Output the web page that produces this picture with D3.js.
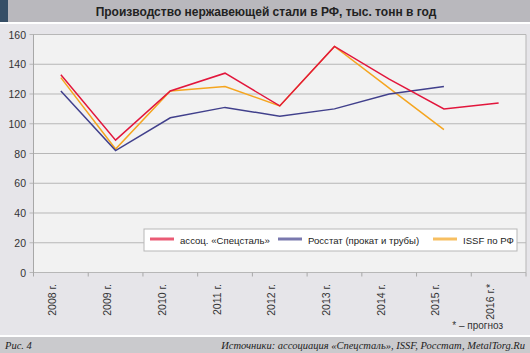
<!DOCTYPE html>
<meta charset="utf-8">
<head>
  <script src="https://d3js.org/d3.v7.min.js"></script>
  <style>
    body { margin: 0; background: #e6e5e9; }
    text { font-family: "Liberation Sans", Arial, sans-serif; }
  </style>
</head>
<body>
<div id="chart"></div>
<script>
  var years = ["2008 г.", "2009 г.", "2010 г.", "2011 г.", "2012 г.", "2013 г.", "2014 г.", "2015 г.", "2016 г.*"];
  var spetsstal = [133, 89, 122, 134, 112, 152, 130, 110, 114];
  var rosstat = [122, 82, 104, 111, 105, 110, 120, 125];
  var issf = [131, 83, 122, 125, 112, 152, 124, 96];
  var yTicks = [0, 20, 40, 60, 80, 100, 120, 140, 160];
  var seriesNames = ["ассоц. «Спецсталь»", "Росстат (прокат и трубы)", "ISSF по РФ"];
  var colors = ["#e2163c", "#41408c", "#f5a51f"];

  var W = 530, H = 353;
  var plot = {left: 33.5, right: 526, top: 34.5, bottom: 272.5};

  var svg = d3.select("#chart").append("svg")
      .attr("width", W).attr("height", H);

  svg.append("rect").attr("width", W).attr("height", H).attr("fill", "#e6e5e9");

  // title bar
  svg.append("rect").attr("x", 0).attr("y", 0).attr("width", W).attr("height", 22).attr("fill", "#b9b8bd");
  svg.append("rect").attr("x", 0).attr("y", 0).attr("width", 8).attr("height", 22).attr("fill", "#364e66");
  svg.append("rect").attr("x", 0).attr("y", 22).attr("width", W).attr("height", 2).attr("fill", "#ffffff");
  svg.append("text").attr("x", 266).attr("y", 16).attr("text-anchor", "middle")
      .style("font-size", "12px").style("font-weight", "bold").attr("fill", "#222")
      .text("Производство нержавеющей стали в РФ, тыс. тонн в год");

  var x = d3.scaleBand().domain(years).range([plot.left, plot.right]);
  var y = d3.scaleLinear().domain([0, 160]).range([plot.bottom, plot.top]);

  svg.append("rect").attr("x", plot.left).attr("y", plot.top)
      .attr("width", plot.right - plot.left).attr("height", plot.bottom - plot.top)
      .attr("fill", "#f2f2f2");

  // grid
  svg.append("g").selectAll("line").data(yTicks).enter().append("line")
      .attr("x1", plot.left - 4).attr("x2", plot.right)
      .attr("y1", function(d) { return y(d); }).attr("y2", function(d) { return y(d); })
      .attr("stroke", "#b7b7b7").attr("stroke-width", 1);

  svg.append("line").attr("x1", plot.right).attr("x2", plot.right)
      .attr("y1", plot.top).attr("y2", plot.bottom).attr("stroke", "#b7b7b7");
  svg.append("line").attr("x1", plot.left).attr("x2", plot.left)
      .attr("y1", plot.top).attr("y2", plot.bottom + 4).attr("stroke", "#a8a8a8");

  svg.append("g").selectAll("text").data(yTicks).enter().append("text")
      .attr("x", 26).attr("y", function(d) { return y(d) + 4; })
      .attr("text-anchor", "end").style("font-size", "10.5px").attr("fill", "#333")
      .text(function(d) { return d; });

  // x ticks
  svg.append("g").selectAll("line").data(years).enter().append("line")
      .attr("x1", function(d) { return x(d) + x.bandwidth(); })
      .attr("x2", function(d) { return x(d) + x.bandwidth(); })
      .attr("y1", plot.bottom).attr("y2", plot.bottom + 4)
      .attr("stroke", "#a8a8a8");

  svg.append("g").selectAll("text").data(years).enter().append("text")
      .attr("transform", function(d) {
        return "translate(" + (x(d) + x.bandwidth() / 2 - 4.5) + ",284) rotate(-90)";
      })
      .attr("text-anchor", "end").style("font-size", "10.5px").attr("fill", "#333")
      .text(function(d) { return d; });

  // lines
  var line = d3.line()
      .x(function(d, i) { return x(years[i]) + x.bandwidth() / 2; })
      .y(function(d) { return y(d); });

  [issf, rosstat, spetsstal].forEach(function(s, k) {
    var idx = [2, 1, 0][k];
    svg.append("path").datum(s).attr("d", line)
        .attr("fill", "none").attr("stroke", colors[idx]).attr("stroke-width", 1.5);
  });

  // legend
  var lg = svg.append("g");
  lg.append("rect").attr("x", 144).attr("y", 229).attr("width", 373).attr("height", 22)
      .attr("fill", "#ffffff").attr("stroke", "#b7b7b7");
  var legendX = [150, 278, 433];
  seriesNames.forEach(function(n, i) {
    lg.append("line").attr("x1", legendX[i]).attr("x2", legendX[i] + 24)
        .attr("y1", 239).attr("y2", 239)
        .attr("stroke", colors[i]).attr("stroke-width", 3).attr("opacity", 0.7);
    lg.append("text").attr("x", legendX[i] + 30).attr("y", 243.5)
        .style("font-size", "9.6px").attr("fill", "#222").text(n);
  });

  svg.append("text").attr("x", 503).attr("y", 329).attr("text-anchor", "end")
      .style("font-size", "10px").attr("fill", "#333").text("* – прогноз");

  // footer
  svg.append("rect").attr("x", 0).attr("y", 335).attr("width", W).attr("height", 2).attr("fill", "#ffffff");
  svg.append("rect").attr("x", 0).attr("y", 337).attr("width", W).attr("height", 16).attr("fill", "#cacacd");
  svg.append("text").attr("x", 5).attr("y", 349)
      .style("font-family", "'Liberation Serif', serif").style("font-style", "italic")
      .style("font-size", "10.5px").attr("fill", "#222").text("Рис. 4");
  svg.append("text").attr("x", 525).attr("y", 349).attr("text-anchor", "end")
      .style("font-family", "'Liberation Serif', serif").style("font-style", "italic")
      .style("font-size", "10.5px").attr("fill", "#222")
      .text("Источники: ассоциация «Спецсталь», ISSF, Росстат, MetalTorg.Ru");
</script>
</body>
